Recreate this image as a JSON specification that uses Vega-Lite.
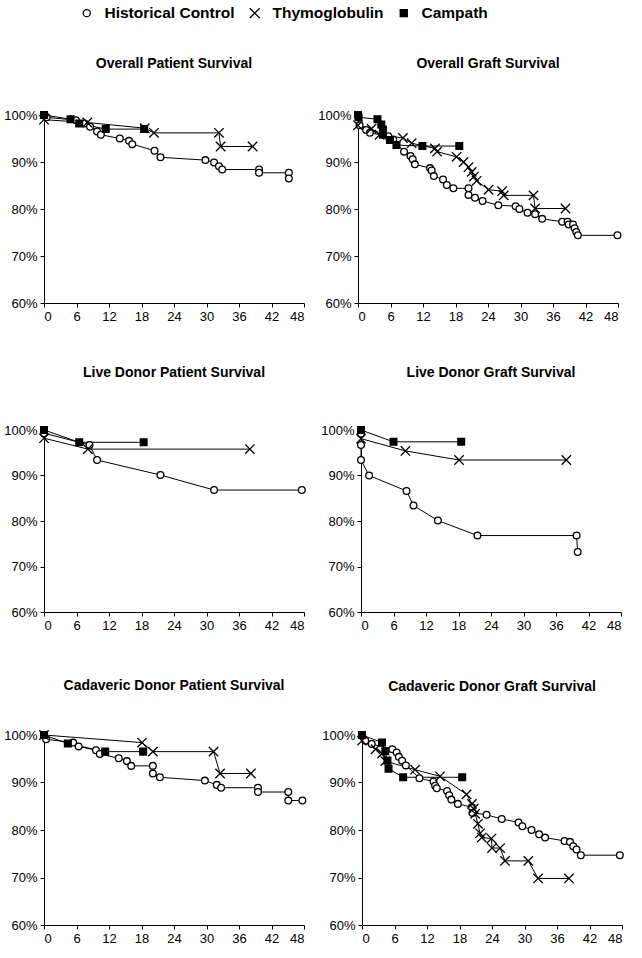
{
"$schema":"https://vega.github.io/schema/vega-lite/v6.json",
"background":"white",
"padding":{"left":3,"top":5,"right":4,"bottom":2},
"datasets":{"surv":[
{"panel":"OPS","group":"Historical Control","month":0,"survival":1},
{"panel":"OPS","group":"Historical Control","month":0.5,"survival":0.995},
{"panel":"OPS","group":"Historical Control","month":5.9,"survival":0.989},
{"panel":"OPS","group":"Historical Control","month":7.5,"survival":0.982},
{"panel":"OPS","group":"Historical Control","month":8.5,"survival":0.975},
{"panel":"OPS","group":"Historical Control","month":9.8,"survival":0.965},
{"panel":"OPS","group":"Historical Control","month":10.5,"survival":0.958},
{"panel":"OPS","group":"Historical Control","month":14,"survival":0.95},
{"panel":"OPS","group":"Historical Control","month":15.7,"survival":0.945},
{"panel":"OPS","group":"Historical Control","month":16.3,"survival":0.938},
{"panel":"OPS","group":"Historical Control","month":20.4,"survival":0.924},
{"panel":"OPS","group":"Historical Control","month":21.5,"survival":0.91},
{"panel":"OPS","group":"Historical Control","month":29.8,"survival":0.904},
{"panel":"OPS","group":"Historical Control","month":31.4,"survival":0.899},
{"panel":"OPS","group":"Historical Control","month":32.3,"survival":0.891},
{"panel":"OPS","group":"Historical Control","month":32.9,"survival":0.884},
{"panel":"OPS","group":"Historical Control","month":39.7,"survival":0.884},
{"panel":"OPS","group":"Historical Control","month":39.7,"survival":0.877},
{"panel":"OPS","group":"Historical Control","month":45.2,"survival":0.877},
{"panel":"OPS","group":"Historical Control","month":45.2,"survival":0.865},
{"panel":"OPS","group":"Thymoglobulin","month":0,"survival":0.99},
{"panel":"OPS","group":"Thymoglobulin","month":8,"survival":0.984},
{"panel":"OPS","group":"Thymoglobulin","month":18.6,"survival":0.972},
{"panel":"OPS","group":"Thymoglobulin","month":20.3,"survival":0.962},
{"panel":"OPS","group":"Thymoglobulin","month":32.3,"survival":0.962},
{"panel":"OPS","group":"Thymoglobulin","month":32.6,"survival":0.933},
{"panel":"OPS","group":"Thymoglobulin","month":38.5,"survival":0.933},
{"panel":"OPS","group":"Campath","month":0,"survival":1},
{"panel":"OPS","group":"Campath","month":4.9,"survival":0.991},
{"panel":"OPS","group":"Campath","month":6.5,"survival":0.982},
{"panel":"OPS","group":"Campath","month":11.4,"survival":0.97},
{"panel":"OPS","group":"Campath","month":18.5,"survival":0.97},
{"panel":"OGS","group":"Historical Control","month":0.3,"survival":0.978},
{"panel":"OGS","group":"Historical Control","month":1.5,"survival":0.968},
{"panel":"OGS","group":"Historical Control","month":2.2,"survival":0.962},
{"panel":"OGS","group":"Historical Control","month":5.6,"survival":0.955},
{"panel":"OGS","group":"Historical Control","month":6.5,"survival":0.948},
{"panel":"OGS","group":"Historical Control","month":8.5,"survival":0.922},
{"panel":"OGS","group":"Historical Control","month":9.7,"survival":0.913},
{"panel":"OGS","group":"Historical Control","month":10.1,"survival":0.906},
{"panel":"OGS","group":"Historical Control","month":10.5,"survival":0.895},
{"panel":"OGS","group":"Historical Control","month":13.3,"survival":0.887},
{"panel":"OGS","group":"Historical Control","month":13.6,"survival":0.882},
{"panel":"OGS","group":"Historical Control","month":14,"survival":0.87},
{"panel":"OGS","group":"Historical Control","month":15.7,"survival":0.863},
{"panel":"OGS","group":"Historical Control","month":16.4,"survival":0.851},
{"panel":"OGS","group":"Historical Control","month":17.6,"survival":0.844},
{"panel":"OGS","group":"Historical Control","month":20.4,"survival":0.844},
{"panel":"OGS","group":"Historical Control","month":20.4,"survival":0.83},
{"panel":"OGS","group":"Historical Control","month":21.6,"survival":0.824},
{"panel":"OGS","group":"Historical Control","month":23,"survival":0.817},
{"panel":"OGS","group":"Historical Control","month":25.9,"survival":0.808},
{"panel":"OGS","group":"Historical Control","month":29.1,"survival":0.806},
{"panel":"OGS","group":"Historical Control","month":29.8,"survival":0.8},
{"panel":"OGS","group":"Historical Control","month":31.3,"survival":0.792},
{"panel":"OGS","group":"Historical Control","month":32.7,"survival":0.789},
{"panel":"OGS","group":"Historical Control","month":34,"survival":0.779},
{"panel":"OGS","group":"Historical Control","month":37.7,"survival":0.773},
{"panel":"OGS","group":"Historical Control","month":38.7,"survival":0.773},
{"panel":"OGS","group":"Historical Control","month":38.9,"survival":0.767},
{"panel":"OGS","group":"Historical Control","month":39.7,"survival":0.767},
{"panel":"OGS","group":"Historical Control","month":40,"survival":0.759},
{"panel":"OGS","group":"Historical Control","month":40.3,"survival":0.751},
{"panel":"OGS","group":"Historical Control","month":40.6,"survival":0.744},
{"panel":"OGS","group":"Historical Control","month":47.9,"survival":0.744},
{"panel":"OGS","group":"Thymoglobulin","month":0,"survival":0.978},
{"panel":"OGS","group":"Thymoglobulin","month":2.5,"survival":0.971},
{"panel":"OGS","group":"Thymoglobulin","month":4,"survival":0.958},
{"panel":"OGS","group":"Thymoglobulin","month":8.3,"survival":0.951},
{"panel":"OGS","group":"Thymoglobulin","month":9.9,"survival":0.94},
{"panel":"OGS","group":"Thymoglobulin","month":14.2,"survival":0.929},
{"panel":"OGS","group":"Thymoglobulin","month":14.6,"survival":0.922},
{"panel":"OGS","group":"Thymoglobulin","month":18.2,"survival":0.911},
{"panel":"OGS","group":"Thymoglobulin","month":19.5,"survival":0.9},
{"panel":"OGS","group":"Thymoglobulin","month":20.4,"survival":0.889},
{"panel":"OGS","group":"Thymoglobulin","month":21,"survival":0.879},
{"panel":"OGS","group":"Thymoglobulin","month":21.4,"survival":0.869},
{"panel":"OGS","group":"Thymoglobulin","month":21.9,"survival":0.86},
{"panel":"OGS","group":"Thymoglobulin","month":24.1,"survival":0.841},
{"panel":"OGS","group":"Thymoglobulin","month":26.6,"survival":0.838},
{"panel":"OGS","group":"Thymoglobulin","month":26.9,"survival":0.829},
{"panel":"OGS","group":"Thymoglobulin","month":32.4,"survival":0.829},
{"panel":"OGS","group":"Thymoglobulin","month":32.7,"survival":0.801},
{"panel":"OGS","group":"Thymoglobulin","month":38.3,"survival":0.801},
{"panel":"OGS","group":"Campath","month":0,"survival":1},
{"panel":"OGS","group":"Campath","month":0.1,"survival":0.995},
{"panel":"OGS","group":"Campath","month":3.6,"survival":0.991},
{"panel":"OGS","group":"Campath","month":4.3,"survival":0.98},
{"panel":"OGS","group":"Campath","month":4.6,"survival":0.969},
{"panel":"OGS","group":"Campath","month":4.6,"survival":0.958},
{"panel":"OGS","group":"Campath","month":5.9,"survival":0.947},
{"panel":"OGS","group":"Campath","month":7.1,"survival":0.936},
{"panel":"OGS","group":"Campath","month":11.9,"survival":0.934},
{"panel":"OGS","group":"Campath","month":18.7,"survival":0.934},
{"panel":"LPS","group":"Historical Control","month":0,"survival":0.993},
{"panel":"LPS","group":"Historical Control","month":8.4,"survival":0.967},
{"panel":"LPS","group":"Historical Control","month":9.8,"survival":0.934},
{"panel":"LPS","group":"Historical Control","month":21.5,"survival":0.901},
{"panel":"LPS","group":"Historical Control","month":31.4,"survival":0.868},
{"panel":"LPS","group":"Historical Control","month":47.6,"survival":0.868},
{"panel":"LPS","group":"Thymoglobulin","month":0,"survival":0.982},
{"panel":"LPS","group":"Thymoglobulin","month":8.1,"survival":0.958},
{"panel":"LPS","group":"Thymoglobulin","month":38,"survival":0.958},
{"panel":"LPS","group":"Campath","month":0,"survival":1},
{"panel":"LPS","group":"Campath","month":6.5,"survival":0.973},
{"panel":"LPS","group":"Campath","month":18.4,"survival":0.973},
{"panel":"LGS","group":"Historical Control","month":0,"survival":0.992},
{"panel":"LGS","group":"Historical Control","month":0,"survival":0.967},
{"panel":"LGS","group":"Historical Control","month":0,"survival":0.934},
{"panel":"LGS","group":"Historical Control","month":1.5,"survival":0.9},
{"panel":"LGS","group":"Historical Control","month":8.4,"survival":0.866},
{"panel":"LGS","group":"Historical Control","month":9.7,"survival":0.834},
{"panel":"LGS","group":"Historical Control","month":14.2,"survival":0.801},
{"panel":"LGS","group":"Historical Control","month":21.5,"survival":0.768},
{"panel":"LGS","group":"Historical Control","month":39.8,"survival":0.768},
{"panel":"LGS","group":"Historical Control","month":40,"survival":0.732},
{"panel":"LGS","group":"Thymoglobulin","month":0,"survival":0.981},
{"panel":"LGS","group":"Thymoglobulin","month":8.2,"survival":0.954},
{"panel":"LGS","group":"Thymoglobulin","month":18.1,"survival":0.934},
{"panel":"LGS","group":"Thymoglobulin","month":37.9,"survival":0.934},
{"panel":"LGS","group":"Campath","month":0,"survival":1},
{"panel":"LGS","group":"Campath","month":6,"survival":0.974},
{"panel":"LGS","group":"Campath","month":18.5,"survival":0.974},
{"panel":"CPS","group":"Historical Control","month":0,"survival":1},
{"panel":"CPS","group":"Historical Control","month":0.4,"survival":0.991},
{"panel":"CPS","group":"Historical Control","month":5.4,"survival":0.984},
{"panel":"CPS","group":"Historical Control","month":6.4,"survival":0.976},
{"panel":"CPS","group":"Historical Control","month":9.6,"survival":0.968},
{"panel":"CPS","group":"Historical Control","month":10.3,"survival":0.96},
{"panel":"CPS","group":"Historical Control","month":13.8,"survival":0.951},
{"panel":"CPS","group":"Historical Control","month":15.3,"survival":0.945},
{"panel":"CPS","group":"Historical Control","month":16.1,"survival":0.935},
{"panel":"CPS","group":"Historical Control","month":20.1,"survival":0.935},
{"panel":"CPS","group":"Historical Control","month":20.1,"survival":0.919},
{"panel":"CPS","group":"Historical Control","month":21.4,"survival":0.911},
{"panel":"CPS","group":"Historical Control","month":29.7,"survival":0.904},
{"panel":"CPS","group":"Historical Control","month":31.9,"survival":0.895},
{"panel":"CPS","group":"Historical Control","month":32.7,"survival":0.889},
{"panel":"CPS","group":"Historical Control","month":39.5,"survival":0.889},
{"panel":"CPS","group":"Historical Control","month":39.5,"survival":0.88},
{"panel":"CPS","group":"Historical Control","month":45.1,"survival":0.88},
{"panel":"CPS","group":"Historical Control","month":45.1,"survival":0.862},
{"panel":"CPS","group":"Historical Control","month":47.7,"survival":0.862},
{"panel":"CPS","group":"Thymoglobulin","month":0,"survival":1},
{"panel":"CPS","group":"Thymoglobulin","month":18.1,"survival":0.984},
{"panel":"CPS","group":"Thymoglobulin","month":20.1,"survival":0.965},
{"panel":"CPS","group":"Thymoglobulin","month":31.3,"survival":0.965},
{"panel":"CPS","group":"Thymoglobulin","month":32.5,"survival":0.919},
{"panel":"CPS","group":"Thymoglobulin","month":38.2,"survival":0.919},
{"panel":"CPS","group":"Campath","month":0,"survival":1},
{"panel":"CPS","group":"Campath","month":4.4,"survival":0.982},
{"panel":"CPS","group":"Campath","month":11.3,"survival":0.965},
{"panel":"CPS","group":"Campath","month":18.3,"survival":0.965},
{"panel":"CGS","group":"Historical Control","month":0.6,"survival":0.988},
{"panel":"CGS","group":"Historical Control","month":1.8,"survival":0.981},
{"panel":"CGS","group":"Historical Control","month":5.6,"survival":0.97},
{"panel":"CGS","group":"Historical Control","month":6.4,"survival":0.963},
{"panel":"CGS","group":"Historical Control","month":6.8,"survival":0.954},
{"panel":"CGS","group":"Historical Control","month":7.4,"survival":0.946},
{"panel":"CGS","group":"Historical Control","month":8.1,"survival":0.936},
{"panel":"CGS","group":"Historical Control","month":10.6,"survival":0.909},
{"panel":"CGS","group":"Historical Control","month":13.2,"survival":0.902},
{"panel":"CGS","group":"Historical Control","month":13.5,"survival":0.893},
{"panel":"CGS","group":"Historical Control","month":13.8,"survival":0.888},
{"panel":"CGS","group":"Historical Control","month":15.7,"survival":0.882},
{"panel":"CGS","group":"Historical Control","month":16.1,"survival":0.873},
{"panel":"CGS","group":"Historical Control","month":16.5,"survival":0.864},
{"panel":"CGS","group":"Historical Control","month":17.7,"survival":0.855},
{"panel":"CGS","group":"Historical Control","month":20.3,"survival":0.848},
{"panel":"CGS","group":"Historical Control","month":20.4,"survival":0.836},
{"panel":"CGS","group":"Historical Control","month":23,"survival":0.832},
{"panel":"CGS","group":"Historical Control","month":25.8,"survival":0.823},
{"panel":"CGS","group":"Historical Control","month":28.9,"survival":0.816},
{"panel":"CGS","group":"Historical Control","month":29.6,"survival":0.808},
{"panel":"CGS","group":"Historical Control","month":31.3,"survival":0.8},
{"panel":"CGS","group":"Historical Control","month":32.7,"survival":0.791},
{"panel":"CGS","group":"Historical Control","month":33.8,"survival":0.784},
{"panel":"CGS","group":"Historical Control","month":37.4,"survival":0.777},
{"panel":"CGS","group":"Historical Control","month":38.4,"survival":0.775},
{"panel":"CGS","group":"Historical Control","month":39,"survival":0.766},
{"panel":"CGS","group":"Historical Control","month":39.6,"survival":0.759},
{"panel":"CGS","group":"Historical Control","month":40.4,"survival":0.747},
{"panel":"CGS","group":"Historical Control","month":47.6,"survival":0.747},
{"panel":"CGS","group":"Thymoglobulin","month":0,"survival":0.988},
{"panel":"CGS","group":"Thymoglobulin","month":2.5,"survival":0.97},
{"panel":"CGS","group":"Thymoglobulin","month":3.7,"survival":0.961},
{"panel":"CGS","group":"Thymoglobulin","month":4.3,"survival":0.945},
{"panel":"CGS","group":"Thymoglobulin","month":9.8,"survival":0.927},
{"panel":"CGS","group":"Thymoglobulin","month":14.4,"survival":0.913},
{"panel":"CGS","group":"Thymoglobulin","month":19.3,"survival":0.875},
{"panel":"CGS","group":"Thymoglobulin","month":20.3,"survival":0.855},
{"panel":"CGS","group":"Thymoglobulin","month":20.6,"survival":0.845},
{"panel":"CGS","group":"Thymoglobulin","month":20.9,"survival":0.834},
{"panel":"CGS","group":"Thymoglobulin","month":21.4,"survival":0.813},
{"panel":"CGS","group":"Thymoglobulin","month":21.8,"survival":0.793},
{"panel":"CGS","group":"Thymoglobulin","month":22.1,"survival":0.784},
{"panel":"CGS","group":"Thymoglobulin","month":23.9,"survival":0.782},
{"panel":"CGS","group":"Thymoglobulin","month":24,"survival":0.762},
{"panel":"CGS","group":"Thymoglobulin","month":25.5,"survival":0.762},
{"panel":"CGS","group":"Thymoglobulin","month":26.4,"survival":0.735},
{"panel":"CGS","group":"Thymoglobulin","month":30.7,"survival":0.735},
{"panel":"CGS","group":"Thymoglobulin","month":32.5,"survival":0.698},
{"panel":"CGS","group":"Thymoglobulin","month":38.2,"survival":0.698},
{"panel":"CGS","group":"Campath","month":0,"survival":1},
{"panel":"CGS","group":"Campath","month":3.7,"survival":0.984},
{"panel":"CGS","group":"Campath","month":4.3,"survival":0.966},
{"panel":"CGS","group":"Campath","month":4.7,"survival":0.946},
{"panel":"CGS","group":"Campath","month":4.9,"survival":0.929},
{"panel":"CGS","group":"Campath","month":7.6,"survival":0.911},
{"panel":"CGS","group":"Campath","month":18.5,"survival":0.911}
]},
"vconcat":[
{"vconcat":[
{"hconcat":[
{"width":260,"height":188,"title":{"text":"Overall Patient Survival","offset":38},"data":{"name":"surv"},"transform":[{"filter":"datum.panel === 'OPS'"}],
"encoding":{"x":{"field":"month","type":"quantitative","scale":{"domain":[0,48]},"axis":{"values":[0,6,12,18,24,30,36,42,48],"title":null}},"y":{"field":"survival","type":"quantitative","scale":{"domain":[0.6,1]},"axis":{"values":[0.6,0.7,0.8,0.9,1],"format":".0%","title":null}}},
"layer":[{"mark":{"type":"line","color":"black","strokeWidth":1},"encoding":{"detail":{"field":"group"},"order":[{"field":"month"},{"field":"survival","sort":"descending"}]}},
{"mark":{"type":"point","filled":true,"stroke":"black","strokeWidth":1.3,"size":45,"opacity":1},"encoding":{"shape":{"field":"group","type":"nominal","scale":{"domain":["Historical Control","Thymoglobulin","Campath"],"range":["circle","M-1.4,-1.4L1.4,1.4M-1.4,1.4L1.4,-1.4","square"]},
"legend":{"title":null,"orient":"none","legendX":35,"legendY":-110,"direction":"horizontal","symbolSize":50,"symbolStrokeWidth":1.3,"labelOffset":10,"columnPadding":12}},
"fill":{"field":"group","type":"nominal","scale":{"domain":["Historical Control","Thymoglobulin","Campath"],"range":["white","black","black"]},"legend":null}}}]},
{"width":260,"height":188,"title":{"text":"Overall Graft Survival","offset":38},"data":{"name":"surv"},"transform":[{"filter":"datum.panel === 'OGS'"}],
"encoding":{"x":{"field":"month","type":"quantitative","scale":{"domain":[0,48]},"axis":{"values":[0,6,12,18,24,30,36,42,48],"title":null}},"y":{"field":"survival","type":"quantitative","scale":{"domain":[0.6,1]},"axis":{"values":[0.6,0.7,0.8,0.9,1],"format":".0%","title":null}}},
"layer":[{"mark":{"type":"line","color":"black","strokeWidth":1},"encoding":{"detail":{"field":"group"},"order":[{"field":"month"},{"field":"survival","sort":"descending"}]}},
{"mark":{"type":"point","filled":true,"stroke":"black","strokeWidth":1.3,"size":45,"opacity":1},"encoding":{"shape":{"field":"group","type":"nominal","scale":{"domain":["Historical Control","Thymoglobulin","Campath"],"range":["circle","M-1.4,-1.4L1.4,1.4M-1.4,1.4L1.4,-1.4","square"]}},"fill":{"field":"group","type":"nominal","scale":{"domain":["Historical Control","Thymoglobulin","Campath"],"range":["white","black","black"]},"legend":null}}}]}
]},
{"hconcat":[
{"width":260,"height":182,"title":{"text":"Live Donor Patient Survival","offset":44},"data":{"name":"surv"},"transform":[{"filter":"datum.panel === 'LPS'"}],
"encoding":{"x":{"field":"month","type":"quantitative","scale":{"domain":[0,48]},"axis":{"values":[0,6,12,18,24,30,36,42,48],"title":null}},"y":{"field":"survival","type":"quantitative","scale":{"domain":[0.6,1]},"axis":{"values":[0.6,0.7,0.8,0.9,1],"format":".0%","title":null}}},
"layer":[{"mark":{"type":"line","color":"black","strokeWidth":1},"encoding":{"detail":{"field":"group"},"order":[{"field":"month"},{"field":"survival","sort":"descending"}]}},
{"mark":{"type":"point","filled":true,"stroke":"black","strokeWidth":1.3,"size":45,"opacity":1},"encoding":{"shape":{"field":"group","type":"nominal","scale":{"domain":["Historical Control","Thymoglobulin","Campath"],"range":["circle","M-1.4,-1.4L1.4,1.4M-1.4,1.4L1.4,-1.4","square"]}},"fill":{"field":"group","type":"nominal","scale":{"domain":["Historical Control","Thymoglobulin","Campath"],"range":["white","black","black"]},"legend":null}}}]},
{"width":260,"height":182,"title":{"text":"Live Donor Graft Survival","offset":44},"data":{"name":"surv"},"transform":[{"filter":"datum.panel === 'LGS'"}],
"encoding":{"x":{"field":"month","type":"quantitative","scale":{"domain":[0,48]},"axis":{"values":[0,6,12,18,24,30,36,42,48],"title":null}},"y":{"field":"survival","type":"quantitative","scale":{"domain":[0.6,1]},"axis":{"values":[0.6,0.7,0.8,0.9,1],"format":".0%","title":null}}},
"layer":[{"mark":{"type":"line","color":"black","strokeWidth":1},"encoding":{"detail":{"field":"group"},"order":[{"field":"month"},{"field":"survival","sort":"descending"}]}},
{"mark":{"type":"point","filled":true,"stroke":"black","strokeWidth":1.3,"size":45,"opacity":1},"encoding":{"shape":{"field":"group","type":"nominal","scale":{"domain":["Historical Control","Thymoglobulin","Campath"],"range":["circle","M-1.4,-1.4L1.4,1.4M-1.4,1.4L1.4,-1.4","square"]}},"fill":{"field":"group","type":"nominal","scale":{"domain":["Historical Control","Thymoglobulin","Campath"],"range":["white","black","black"]},"legend":null}}}]}
]}
],"spacing":43},
{"hconcat":[
{"width":260,"height":190,"title":{"text":"Cadaveric Donor Patient Survival","offset":35},"data":{"name":"surv"},"transform":[{"filter":"datum.panel === 'CPS'"}],
"encoding":{"x":{"field":"month","type":"quantitative","scale":{"domain":[0,48]},"axis":{"values":[0,6,12,18,24,30,36,42,48],"title":null}},"y":{"field":"survival","type":"quantitative","scale":{"domain":[0.6,1]},"axis":{"values":[0.6,0.7,0.8,0.9,1],"format":".0%","title":null}}},
"layer":[{"mark":{"type":"line","color":"black","strokeWidth":1},"encoding":{"detail":{"field":"group"},"order":[{"field":"month"},{"field":"survival","sort":"descending"}]}},
{"mark":{"type":"point","filled":true,"stroke":"black","strokeWidth":1.3,"size":45,"opacity":1},"encoding":{"shape":{"field":"group","type":"nominal","scale":{"domain":["Historical Control","Thymoglobulin","Campath"],"range":["circle","M-1.4,-1.4L1.4,1.4M-1.4,1.4L1.4,-1.4","square"]}},"fill":{"field":"group","type":"nominal","scale":{"domain":["Historical Control","Thymoglobulin","Campath"],"range":["white","black","black"]},"legend":null}}}]},
{"width":260,"height":190,"title":{"text":"Cadaveric Donor Graft Survival","offset":35},"data":{"name":"surv"},"transform":[{"filter":"datum.panel === 'CGS'"}],
"encoding":{"x":{"field":"month","type":"quantitative","scale":{"domain":[0,48]},"axis":{"values":[0,6,12,18,24,30,36,42,48],"title":null}},"y":{"field":"survival","type":"quantitative","scale":{"domain":[0.6,1]},"axis":{"values":[0.6,0.7,0.8,0.9,1],"format":".0%","title":null}}},
"layer":[{"mark":{"type":"line","color":"black","strokeWidth":1},"encoding":{"detail":{"field":"group"},"order":[{"field":"month"},{"field":"survival","sort":"descending"}]}},
{"mark":{"type":"point","filled":true,"stroke":"black","strokeWidth":1.3,"size":45,"opacity":1},"encoding":{"shape":{"field":"group","type":"nominal","scale":{"domain":["Historical Control","Thymoglobulin","Campath"],"range":["circle","M-1.4,-1.4L1.4,1.4M-1.4,1.4L1.4,-1.4","square"]}},"fill":{"field":"group","type":"nominal","scale":{"domain":["Historical Control","Thymoglobulin","Campath"],"range":["white","black","black"]},"legend":null}}}]}
]}
],
"spacing":46,
"config":{
"view":{"stroke":null},
"concat":{"spacing":12},
"font":"Liberation Sans",
"title":{"font":"Liberation Sans","fontSize":14,"fontWeight":"bold","color":"black","anchor":"middle"},
"axis":{"grid":false,"domainColor":"black","tickColor":"black","labelColor":"black","labelFont":"Liberation Sans","labelFontSize":13,"tickSize":4,"domainWidth":1,"tickWidth":1,"labelPadding":3},
"legend":{"labelFont":"Liberation Sans","labelFontSize":15.5,"labelFontWeight":"bold","labelColor":"black","labelLimit":300}
}
}
